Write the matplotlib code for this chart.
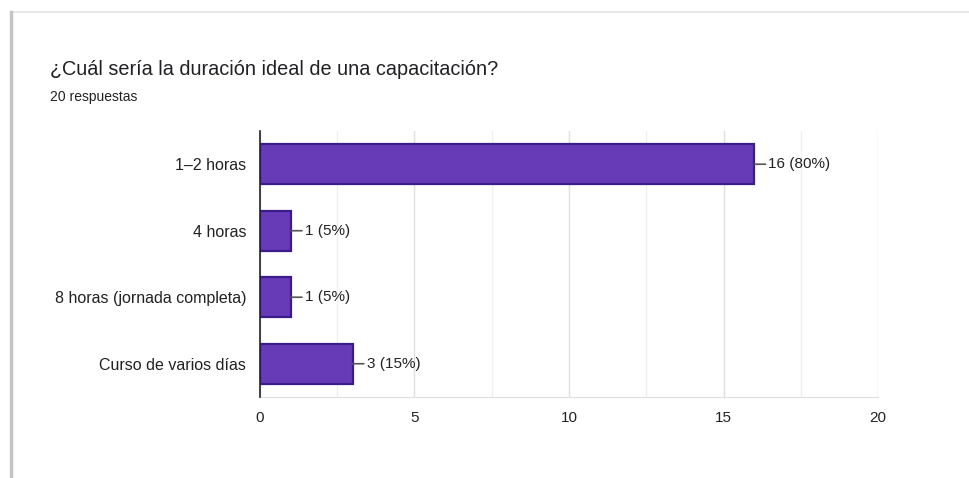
import matplotlib.pyplot as plt
from matplotlib.lines import Line2D

plt.rcParams['font.family'] = ['Liberation Sans', 'DejaVu Sans']

# Survey answers
categories = ['1–2 horas', '4 horas', '8 horas (jornada completa)', 'Curso de varios días']
counts = [16, 1, 1, 3]
total = 20
xticks = [0, 5, 10, 15, 20]

fig = plt.figure(figsize=(9.69, 4.78), dpi=100)
ax = fig.add_axes([0.2683, 0.1695, 0.6378, 0.5565])

ypos = list(range(len(categories)))
ax.barh(ypos, counts, height=0.6, color='#673ab7', edgecolor='#3b1d8a', linewidth=1.6, zorder=3)

# value labels with a short leader line
for y, c in zip(ypos, counts):
    ax.annotate(f'{c} ({round(100 * c / total)}%)', xy=(c, y), xytext=(10, 0),
                textcoords='offset points', ha='left', va='center', fontsize=11,
                color='#222222',
                arrowprops=dict(arrowstyle='-', color='#555555', lw=1.2, shrinkA=0, shrinkB=0))

ax.set_xlim(0, 20)
ax.set_ylim(len(categories) - 0.5, -0.5)
ax.set_yticks(ypos)
ax.set_yticklabels(categories, fontsize=11.5, color='#222222')
ax.set_xticks(xticks)
ax.set_xticklabels([str(t) for t in xticks], fontsize=11, color='#222222')
ax.set_xticks([2.5, 7.5, 12.5, 17.5], minor=True)
ax.tick_params(axis='both', length=0, pad=10)
ax.tick_params(axis='x', which='minor', length=0)

ax.grid(axis='x', which='major', color='#e0e0e0', lw=1, zorder=0)
ax.grid(axis='x', which='minor', color='#f0f0f0', lw=1, zorder=0)
for s in ['top', 'right']:
    ax.spines[s].set_visible(False)
ax.spines['bottom'].set_color('#e0e0e0')
ax.spines['left'].set_color('#222222')
ax.spines['left'].set_linewidth(1.2)
ax.spines['left'].set_zorder(4)

# card outline
fig.add_artist(Line2D([0.011, 1.0], [0.975, 0.975], color='#e4e4e4', lw=1.2))
fig.add_artist(Line2D([0.011, 0.011], [0.0, 0.975], color='#c4c4c4', lw=2.5))

fig.text(0.052, 0.855, '¿Cuál sería la duración ideal de una capacitación?',
         fontsize=14.3, color='#202124', va='center')
fig.text(0.052, 0.798, '20 respuestas', fontsize=10, color='#202124', va='center')

fig.savefig('out.png', dpi=100, facecolor='white')
